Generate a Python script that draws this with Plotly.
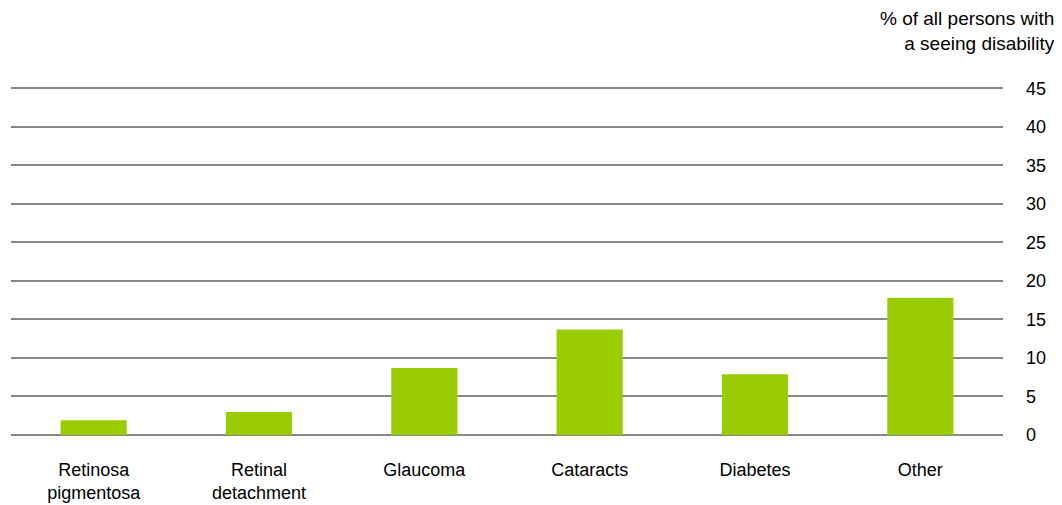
import plotly.graph_objects as go

categories = ["Retinosa<br>pigmentosa", "Retinal<br>detachment", "Glaucoma",
              "Cataracts", "Diabetes", "Other"]
values = [1.9, 3.0, 8.7, 13.7, 7.9, 17.8]
y_ticks = [0, 5, 10, 15, 20, 25, 30, 35, 40, 45]

fig = go.Figure()
fig.add_bar(
    x=categories,
    y=values,
    marker=dict(color="#99cc00", line=dict(width=0)),
)

# page body adds an 8px offset, margins compensate for it
fig.update_layout(
    width=1062,
    height=505,
    margin=dict(l=3, r=67, t=78, b=78),
    paper_bgcolor="white",
    plot_bgcolor="white",
    bargap=0.6,
    showlegend=False,
    font=dict(family="Liberation Sans, Arial, sans-serif", size=18, color="#000000"),
)
fig.update_xaxes(
    showgrid=False,
    zeroline=False,
    showline=False,
    ticks="",
    ticklabelstandoff=22,
    tickfont=dict(size=18),
)
fig.update_yaxes(
    side="right",
    range=[0, 45.3],
    tickvals=y_ticks,
    showgrid=True,
    gridcolor="#888888",
    gridwidth=2,
    zeroline=True,
    zerolinecolor="#888888",
    zerolinewidth=2,
    showline=False,
    ticks="",
    ticklabelstandoff=22,
    tickfont=dict(size=18),
)

fig.add_annotation(
    text="% of all persons with<br>a seeing disability",
    xref="paper", yref="paper",
    x=1.054, y=1.0,
    xanchor="right", yanchor="bottom",
    yshift=30,
    align="right",
    showarrow=False,
    font=dict(size=19),
)

fig.write_html("out.html")
